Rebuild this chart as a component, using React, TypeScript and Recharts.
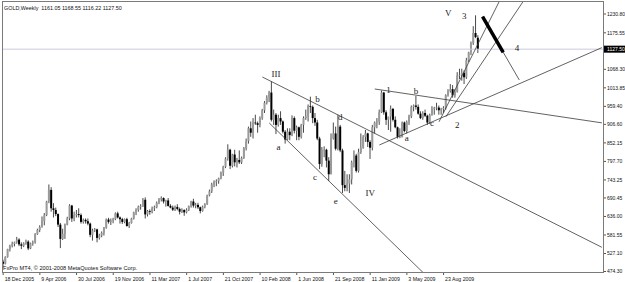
import { ComposedChart, Bar, XAxis, YAxis, ReferenceLine, ReferenceDot } from "recharts";

const title = "GOLD,Weekly  1161.05 1168.55 1116.22 1127.50";
const copyright = "FxPro MT4, © 2001-2008 MetaQuotes Software Corp.";
const lastClose = 1127.5;

// x axis: one label every 16 weeks
const dateLabels = [
  "18 Dec 2005", "9 Apr 2006", "30 Jul 2006", "19 Nov 2006", "11 Mar 2007", "1 Jul 2007", "21 Oct 2007",
  "10 Feb 2008", "1 Jun 2008", "21 Sep 2008", "11 Jan 2009", "3 May 2009", "23 Aug 2009",
];
const dateLabelWeeks = [0, 16, 32, 48, 64, 80, 96, 112, 128, 144, 160, 176, 192];

const priceTicks = [
  474.3, 527.1, 581.55, 636.0, 690.45, 743.25, 797.7, 852.15, 906.6, 959.4, 1013.85, 1068.3, 1127.5, 1175.55, 1230.8,
];

// weekly bars [open, high, low, close]
const bars2005 = [
  [503, 509, 486, 497], [497, 519, 495, 517],
];
const bars2006 = [
  [517, 541, 515, 540], [540, 553, 533, 550], [550, 562, 545, 555], [555, 562, 548, 560], [560, 576, 556, 568],
  [568, 572, 549, 554], [554, 560, 540, 550], [550, 560, 546, 557], [557, 568, 553, 562],
  [562, 566, 537, 542], [542, 559, 540, 557], [557, 565, 550, 560], [560, 587, 556, 584],
  [584, 600, 582, 596], [596, 610, 590, 605], [605, 636, 603, 622], [622, 646, 610, 640], [640, 682, 637, 680],
  [680, 730, 675, 714], [714, 722, 650, 660], [660, 675, 633, 655], [655, 662, 637, 643],
  [643, 645, 605, 612], [612, 617, 543, 570], [570, 600, 567, 585], [585, 615, 570, 612],
  [612, 635, 610, 630], [630, 672, 625, 668], [668, 670, 620, 630], [630, 650, 622, 640], [640, 655, 633, 643],
  [643, 660, 633, 640], [640, 645, 615, 620], [620, 630, 615, 626], [626, 630, 615, 622],
  [622, 630, 610, 615], [615, 618, 575, 582], [582, 600, 565, 595], [595, 602, 590, 598],
  [598, 600, 560, 573], [573, 585, 568, 580], [580, 592, 575, 588], [588, 605, 580, 603], [603, 630, 600, 627],
  [627, 632, 615, 620], [620, 630, 611, 624], [624, 632, 616, 628], [628, 648, 625, 645],
  [645, 650, 630, 633], [633, 636, 615, 628], [628, 632, 614, 620], [620, 630, 616, 628], [628, 632, 606, 608],
];
const bars2007 = [
  [608, 620, 602, 617], [617, 632, 615, 630], [630, 650, 627, 648], [648, 660, 640, 655],
  [655, 668, 650, 665], [665, 672, 656, 666], [666, 690, 664, 685], [685, 692, 630, 642],
  [642, 655, 636, 652], [652, 657, 641, 650], [650, 665, 645, 660], [660, 668, 652, 663],
  [663, 680, 660, 676], [676, 690, 672, 686], [686, 695, 680, 690], [690, 692, 674, 680], [680, 685, 665, 683],
  [683, 690, 665, 667], [667, 672, 660, 662], [662, 668, 652, 656], [656, 668, 652, 664],
  [664, 672, 654, 658], [658, 662, 642, 650], [650, 660, 646, 655], [655, 657, 638, 648],
  [648, 660, 645, 656], [656, 668, 652, 666], [666, 682, 662, 680], [680, 688, 662, 668], [668, 676, 660, 670],
  [670, 676, 658, 663], [663, 665, 645, 652], [652, 668, 650, 665], [665, 675, 660, 672],
  [672, 700, 670, 698], [698, 715, 695, 710], [710, 735, 705, 730], [730, 742, 722, 738], [738, 745, 725, 740],
  [740, 750, 732, 748], [748, 768, 745, 765], [765, 785, 755, 782], [782, 810, 778, 806],
  [806, 848, 800, 832], [832, 835, 775, 785], [785, 820, 780, 818], [818, 832, 783, 795],
  [795, 808, 780, 802], [802, 830, 790, 795], [795, 812, 790, 808], [808, 840, 805, 836], [836, 865, 830, 858],
];
const bars2008 = [
  [858, 900, 850, 895], [895, 915, 870, 882], [882, 925, 865, 912], [912, 935, 905, 910],
  [910, 915, 882, 905], [905, 930, 898, 925], [925, 952, 920, 948], [948, 975, 940, 970],
  [970, 992, 965, 985], [985, 1005, 972, 1000], [1000, 1033, 915, 920], [920, 950, 905, 935], [935, 940, 878, 905],
  [905, 935, 900, 925], [925, 945, 905, 915], [915, 918, 880, 885], [885, 890, 850, 862],
  [862, 895, 860, 885], [885, 895, 860, 875], [875, 933, 872, 925], [925, 930, 880, 888],
  [888, 903, 860, 898], [898, 900, 860, 870], [870, 908, 865, 905], [905, 930, 882, 925], [925, 950, 920, 930],
  [930, 965, 915, 960], [960, 988, 940, 958], [958, 962, 910, 925], [925, 940, 902, 912],
  [912, 920, 860, 865], [865, 870, 775, 790], [790, 840, 782, 832], [832, 842, 810, 832], [832, 835, 780, 800],
  [800, 810, 740, 760], [760, 880, 760, 865], [865, 912, 862, 880], [880, 900, 830, 835],
  [835, 935, 830, 900], [900, 905, 825, 830], [830, 835, 705, 728], [728, 770, 710, 720],
  [720, 760, 710, 733], [733, 760, 705, 745], [745, 800, 730, 795], [795, 830, 780, 815], [815, 820, 765, 770],
  [770, 835, 765, 825], [825, 880, 820, 838], [838, 875, 835, 870], [870, 890, 855, 880],
];
const bars2009 = [
  [880, 882, 840, 855], [855, 860, 805, 838], [838, 905, 830, 898], [898, 915, 880, 912],
  [912, 925, 895, 915], [915, 950, 905, 942], [942, 1006, 940, 1000], [1000, 1002, 935, 942],
  [942, 948, 905, 920], [920, 928, 890, 930], [930, 962, 885, 952], [952, 955, 915, 920], [920, 930, 895, 898],
  [898, 900, 865, 870], [870, 895, 866, 870], [870, 915, 868, 912], [912, 915, 883, 887],
  [887, 918, 880, 914], [914, 935, 905, 930], [930, 962, 925, 958], [958, 965, 945, 962], [962, 990, 950, 958],
  [958, 965, 935, 938], [938, 945, 922, 925], [925, 945, 920, 940], [940, 950, 928, 932],
  [932, 935, 905, 912], [912, 938, 908, 935], [935, 960, 932, 952], [952, 958, 935, 955],
  [955, 970, 948, 956], [956, 962, 935, 948], [948, 955, 935, 952], [952, 960, 940, 955], [955, 995, 950, 992],
  [992, 1010, 988, 1005], [1005, 1025, 1000, 1010], [1010, 1022, 985, 992], [992, 1010, 985, 1003],
  [1003, 1060, 1000, 1050], [1050, 1070, 1040, 1052], [1052, 1070, 1035, 1058], [1058, 1065, 1025, 1045],
  [1045, 1102, 1040, 1095], [1095, 1120, 1090, 1118], [1118, 1150, 1110, 1145], [1145, 1195, 1140, 1175], [1175, 1227, 1160, 1163],
  [1161.05, 1168.55, 1116.22, 1127.5],
];
const emptyWeeks = 54; // chart shift on the right

// trend lines as [week, price] end points
const trendLines = [
  [[113, 1045.7], [261, 545.4]],
  [[116, 910.6], [186, 452]],
  [[162, 1010.5], [261, 911]],
  [[164, 846], [261, 1132]],
  [[190, 914], [218, 1291]],
  [[193, 929], [229, 1291]],
  [[209, 1223], [225, 1037]],
];
const arrowHead = [[209, 1223], [218, 1118]];

// wave labels [text, week, price]
const waveLabels: [string, number, number][] = [
  ["III", 119, 1054], ["a", 120, 840], ["b", 137, 981], ["c", 136, 752], ["d", 147, 928], ["e", 145, 681],
  ["IV", 160, 705], ["1", 168, 1008], ["a", 176, 866], ["b", 180, 1005], ["c", 187, 911], ["2", 198, 905],
  ["V", 194, 1234], ["3", 201, 1225], ["4", 224, 1131],
];

function Candle(props: any) {
  const { x, y, width, height, payload } = props;
  if (!payload || payload.h == null) return null;
  const top = Math.min(y, y + height);
  const h = Math.abs(height);
  const cx = x + width / 2;
  const py = (v: number) => top + ((payload.h - v) / (payload.h - payload.l)) * h;
  const bTop = py(Math.max(payload.o, payload.c));
  const bBot = py(Math.min(payload.o, payload.c));
  const up = payload.c >= payload.o;
  return (
    <g>
      <line x1={cx} x2={cx} y1={top} y2={top + h} stroke="#1c1c1c" strokeWidth={0.8} />
      <rect x={cx - 1} y={bTop} width={2} height={Math.max(bBot - bTop, 0.8)} fill={up ? "#9a9a9a" : "#000"} />
    </g>
  );
}

function DateTick({ x, y, payload }: any) {
  const k = dateLabelWeeks.indexOf(payload.value);
  return (
    <g>
      <line x1={x} x2={x} y1={y} y2={y + 3} stroke="#555" />
      <text x={x + 1.5} y={y + 8.5} fontSize={5.2} fontFamily="Liberation Sans" fill="#111">
        {dateLabels[k]}
      </text>
    </g>
  );
}

function PriceTick({ x, y, payload }: any) {
  const v = payload.value;
  const cur = v === lastClose;
  return (
    <g>
      <line x1={x} x2={x + 3} y1={y} y2={y} stroke="#555" />
      {cur && <rect x={x + 1} y={y - 3.5} width={21} height={7} fill="#000" />}
      <text x={x + 4} y={y} dy="0.35em" fontSize={5} fontFamily="Liberation Sans" fill={cur ? "#fff" : "#111"}>
        {v.toFixed(2)}
      </text>
    </g>
  );
}

export default function App() {
  const weeks = [...bars2005, ...bars2006, ...bars2007, ...bars2008, ...bars2009];
  const data: any[] = weeks.map(([o, h, l, c], i) => ({ i, o, h, l, c, range: [l, h] }));
  for (let k = 0; k < emptyWeeks; k++) data.push({ i: weeks.length + k, range: null });

  return (
    <div style={{ position: "fixed", left: 0, top: 0, width: 625, height: 282, background: "#fff" }}>
      <ComposedChart width={625} height={282} data={data} margin={{ top: 2, right: 0, bottom: 0, left: 2 }} barCategoryGap={0}>
        <XAxis
          dataKey="i"
          type="category"
          ticks={dateLabelWeeks}
          interval={0}
          height={10}
          tickSize={0}
          tickMargin={0}
          axisLine={false}
          tick={(p: any) => <DateTick {...p} />}
        />
        <YAxis
          orientation="right"
          type="number"
          width={22}
          domain={[472.8, 1266.1]}
          allowDataOverflow
          ticks={priceTicks}
          interval={0}
          tickSize={0}
          tickMargin={0}
          axisLine={false}
          tick={(p: any) => <PriceTick {...p} />}
        />
        <ReferenceLine y={lastClose} stroke="#cfc8dc" strokeWidth={1} />
        {trendLines.map((ln, k) => (
          <ReferenceLine
            key={k}
            segment={[{ x: ln[0][0], y: ln[0][1] }, { x: ln[1][0], y: ln[1][1] }]}
            stroke="#3a3a3a"
            strokeWidth={0.8}
            ifOverflow="hidden"
          />
        ))}
        <ReferenceLine
          segment={[{ x: arrowHead[0][0], y: arrowHead[0][1] }, { x: arrowHead[1][0], y: arrowHead[1][1] }]}
          stroke="#000"
          strokeWidth={3.5}
          ifOverflow="hidden"
        />
        <Bar dataKey="range" isAnimationActive={false} shape={(p: any) => <Candle {...p} />} />
        {waveLabels.map(([t, w, p], k) => (
          <ReferenceDot
            key={k}
            x={w}
            y={p}
            r={0}
            ifOverflow="visible"
            shape={(d: any) => (
              <text
                x={d.cx}
                y={d.cy}
                textAnchor="middle"
                dominantBaseline="central"
                fontFamily="Liberation Serif"
                fontSize={9}
                fill="#222"
              >
                {t}
              </text>
            )}
          />
        ))}
      </ComposedChart>
      <svg width={625} height={282} style={{ position: "absolute", left: 0, top: 0, pointerEvents: "none" }}>
        <rect x={2.5} y={1.5} width={601} height={271} fill="none" stroke="#7a7a7a" />
        <text x={4} y={10} fontSize={5.4} fontFamily="Liberation Sans" fill="#111" xmlSpace="preserve">
          {title}
        </text>
        <text x={3} y={269.5} fontSize={5.6} fontFamily="Liberation Sans" fill="#111">
          {copyright}
        </text>
      </svg>
    </div>
  );
}
